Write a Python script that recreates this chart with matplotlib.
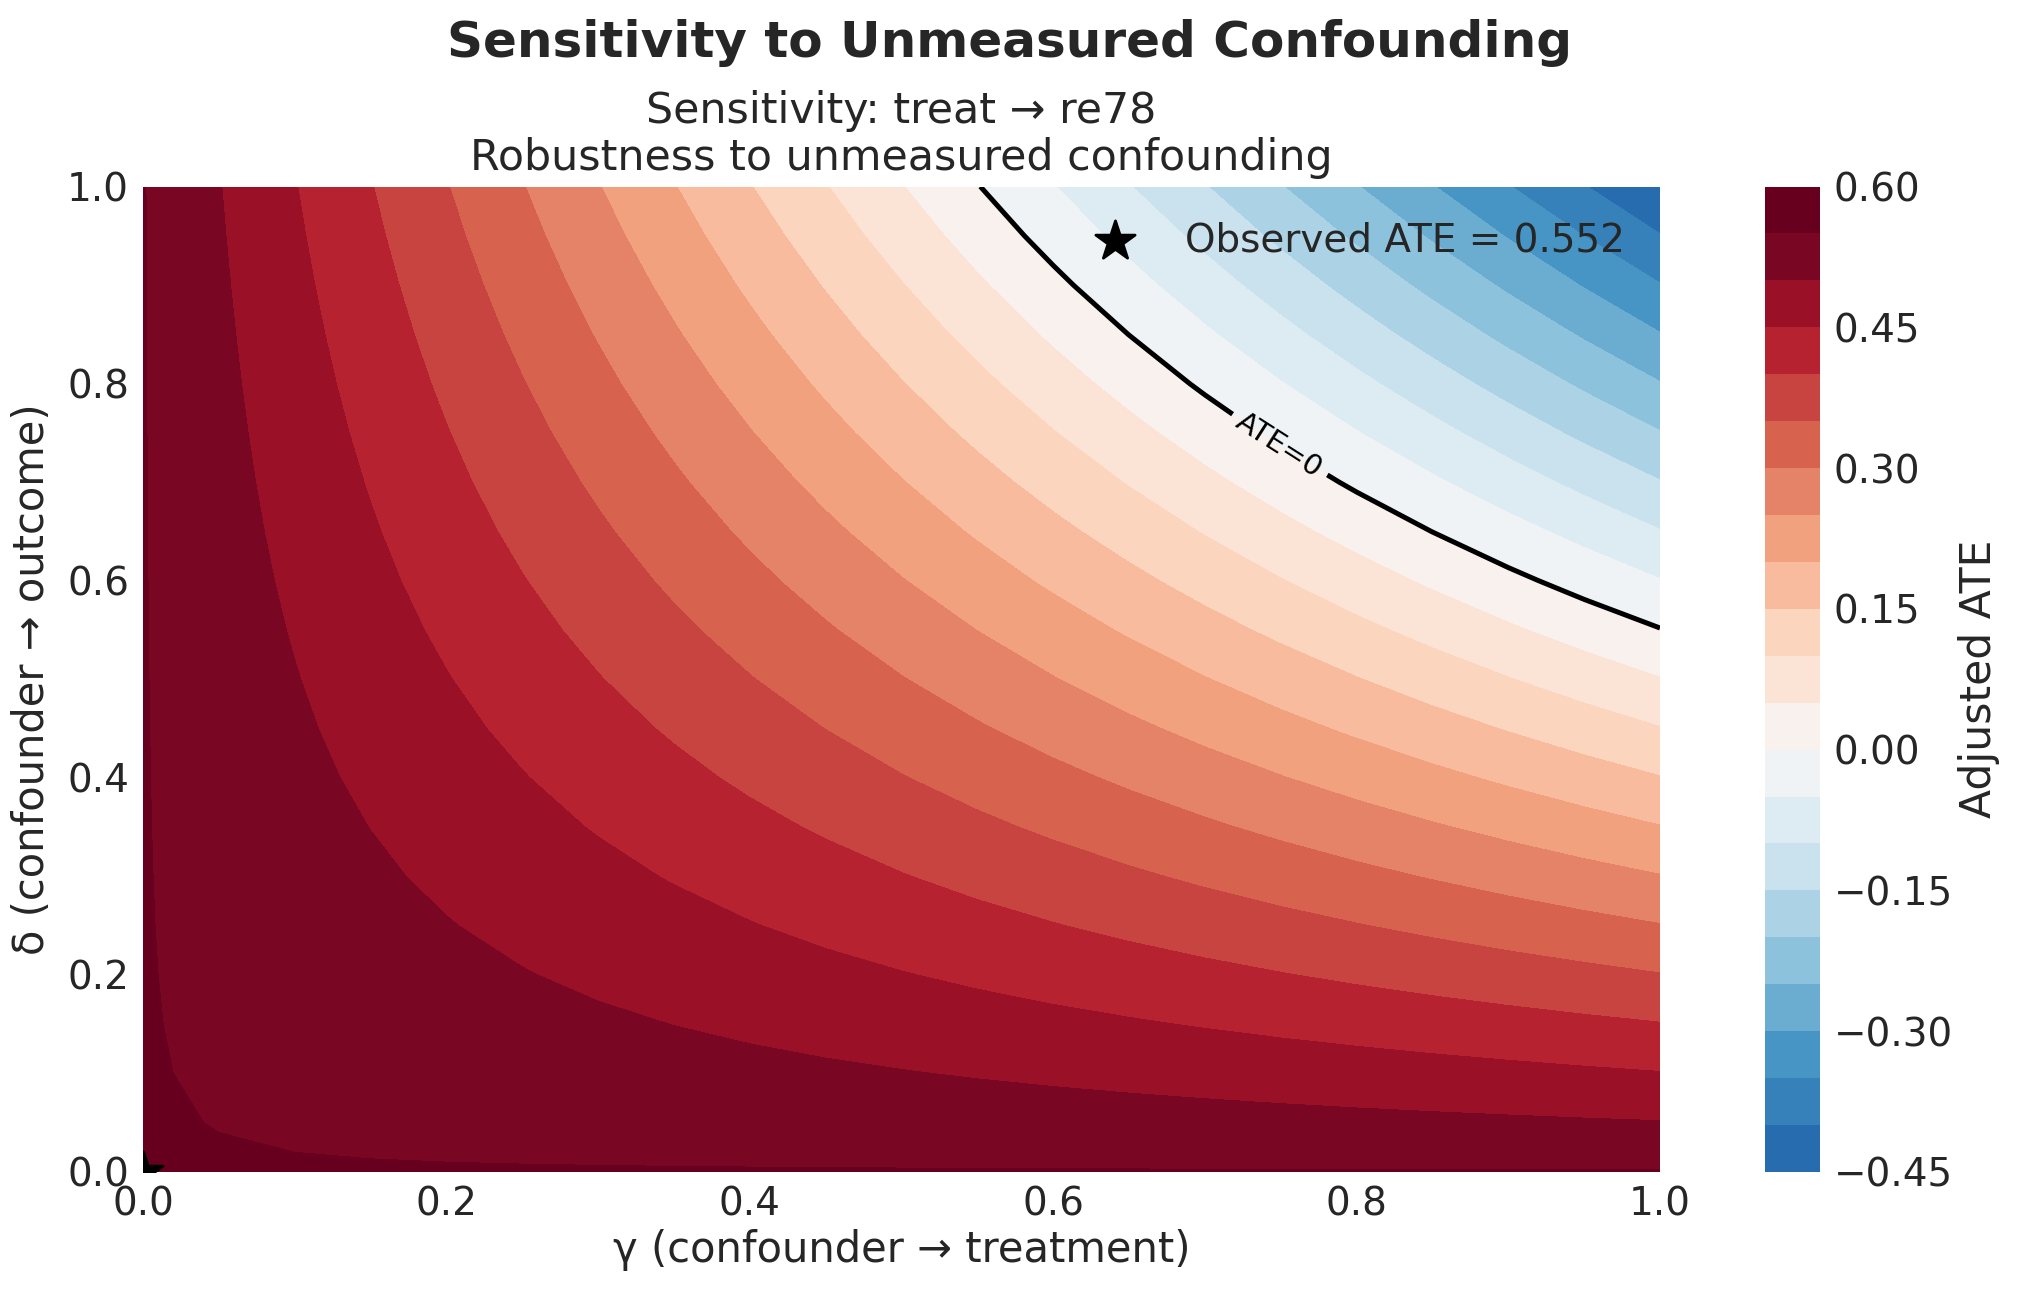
#!/usr/bin/env python3
"""Sensitivity of the treat -> re78 ATE to an unmeasured confounder."""

import numpy as np
import matplotlib.pyplot as plt

# observed effect and the grid of confounder strengths
observed_ate = 0.552
gamma_grid = np.linspace(0.0, 1.0, 21)   # confounder -> treatment
delta_grid = np.linspace(0.0, 1.0, 21)   # confounder -> outcome
colorbar_ticks = [-0.45, -0.30, -0.15, 0.00, 0.15, 0.30, 0.45, 0.60]

TEXT = "#262626"

plt.rcParams["font.family"] = ["DejaVu Sans"]
plt.rcParams["text.color"] = TEXT
plt.rcParams["axes.labelcolor"] = TEXT
plt.rcParams["xtick.color"] = TEXT
plt.rcParams["ytick.color"] = TEXT

G, D = np.meshgrid(gamma_grid, delta_grid)
adjusted = observed_ate - G * D
vlim = np.abs(adjusted).max()

fig = plt.figure(figsize=(10.095, 6.455), dpi=200)
ax = fig.add_axes([0.0708, 0.0922, 0.7514, 0.7633])
cax = fig.add_axes([0.8740, 0.0922, 0.0272, 0.7633])

cf = ax.contourf(G, D, adjusted, levels=20, cmap="RdBu_r", vmin=-vlim, vmax=vlim)
cs = ax.contour(G, D, adjusted, levels=[0.0], colors="black", linewidths=1.8)
ax.clabel(cs, fmt={0.0: "ATE=0"}, fontsize=10.5, inline=True,
          inline_spacing=8, manual=[(0.749, 0.737)])

ax.scatter([0.0], [0.0], marker="*", s=220, color="black", zorder=5,
           clip_on=True, label=f"Observed ATE = {observed_ate:.3f}")
ax.legend(loc="upper right", frameon=False, fontsize=14)

ax.set_xlim(0, 1)
ax.set_ylim(0, 1)
for spine in ax.spines.values():
    spine.set_visible(False)
ax.tick_params(length=0, labelsize=14, pad=5)
ax.set_xlabel("γ (confounder → treatment)", fontsize=15, labelpad=2)
ax.set_ylabel("δ (confounder → outcome)", fontsize=15, labelpad=5)
ax.set_title("Sensitivity: treat → re78\nRobustness to unmeasured confounding",
             fontsize=15.4, pad=6, linespacing=1.15)

cbar = fig.colorbar(cf, cax=cax, ticks=colorbar_ticks)
cbar.outline.set_visible(False)
cbar.ax.tick_params(length=0, labelsize=14, pad=5)
cbar.set_label("Adjusted ATE", fontsize=15.3, labelpad=2)

fig.suptitle("Sensitivity to Unmeasured Confounding", fontsize=18,
             fontweight="bold", y=0.985)

fig.savefig("out.png", dpi=200)
